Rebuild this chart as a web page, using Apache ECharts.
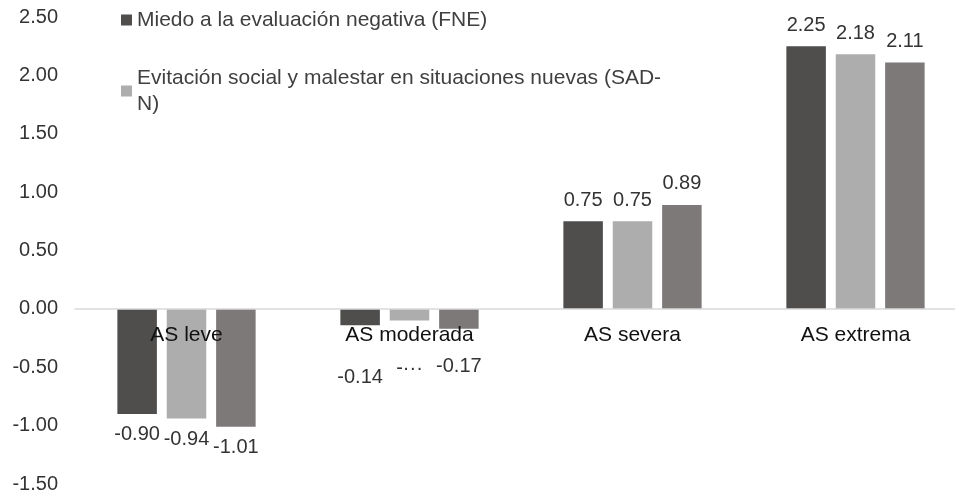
<!DOCTYPE html>
<html>
<head>
<meta charset="utf-8">
<script src="https://cdn.jsdelivr.net/npm/echarts@6/dist/echarts.min.js"></script>
<style>
  html, body { margin: 0; padding: 0; background: #fff; }
  #chart { width: 955px; height: 494px; }
</style>
</head>
<body>
<div id="chart"></div>
<script>
const categories = ['AS leve', 'AS moderada', 'AS severa', 'AS extrema'];
const seriesNames = [
  'Miedo a la evaluación negativa (FNE)',
  'Evitación social y malestar en situaciones nuevas (SAD-N)',
  'Total'
];
const fneValues = [-0.90, -0.14, 0.75, 2.25];
const sadValues = [-0.94, -0.10, 0.75, 2.18];
const totalValues = [-1.01, -0.17, 0.89, 2.11];
const colors = ['#4f4e4d', '#adadad', '#7d7978'];
// extra gap under the small bars (Excel pushed those labels below the category text)
const smallLabelGap = [42, 38, 28];

const font = 'Liberation Sans, Arial, Helvetica, sans-serif';

function toItems(values, k) {
  return values.map((v, i) => ({
    value: v,
    label: {
      position: v < 0 ? 'bottom' : 'top',
      distance: Math.abs(v) < 0.5 ? smallLabelGap[k] : 11,
      formatter: (k === 1 && i === 1) ? '-···' : v.toFixed(2)
    }
  }));
}

const chart = echarts.init(document.getElementById('chart'));

const allValues = [fneValues, sadValues, totalValues];

chart.setOption({
  animation: false,
  grid: { left: 75, right: -12, top: 17, bottom: 10, outerBoundsMode: 'none', containLabel: false },
  legend: {
    data: seriesNames.slice(0, 2),
    orient: 'vertical',
    left: 116,
    top: 2,
    itemWidth: 11,
    itemHeight: 11,
    itemGap: 32,
    icon: 'rect',
    textStyle: { fontFamily: font, fontSize: 21, color: '#404040', lineHeight: 26 },
    formatter: name => name.replace('(SAD-N)', '(SAD-\nN)')
  },
  xAxis: {
    type: 'category',
    data: categories,
    offset: -175,
    z: 10,
    axisLine: { onZero: false, lineStyle: { color: '#d9d9d9', width: 1.5 } },
    axisTick: { show: false },
    axisLabel: { fontFamily: font, fontSize: 21, color: '#111', margin: 16 }
  },
  yAxis: {
    type: 'value',
    min: -1.5,
    max: 2.5,
    interval: 0.5,
    splitLine: { show: false },
    axisLine: { show: false },
    axisLabel: {
      fontFamily: font, fontSize: 20, color: '#333', margin: 17,
      formatter: v => v.toFixed(2)
    }
  },
  series: allValues.map((vals, k) => ({
    name: seriesNames[k],
    type: 'bar',
    barGap: '25%',
    barCategoryGap: '38%',
    itemStyle: { color: colors[k] },
    label: { show: true, fontFamily: font, fontSize: 20, color: '#333' },
    data: toItems(vals, k)
  }))
});
</script>
</body>
</html>
